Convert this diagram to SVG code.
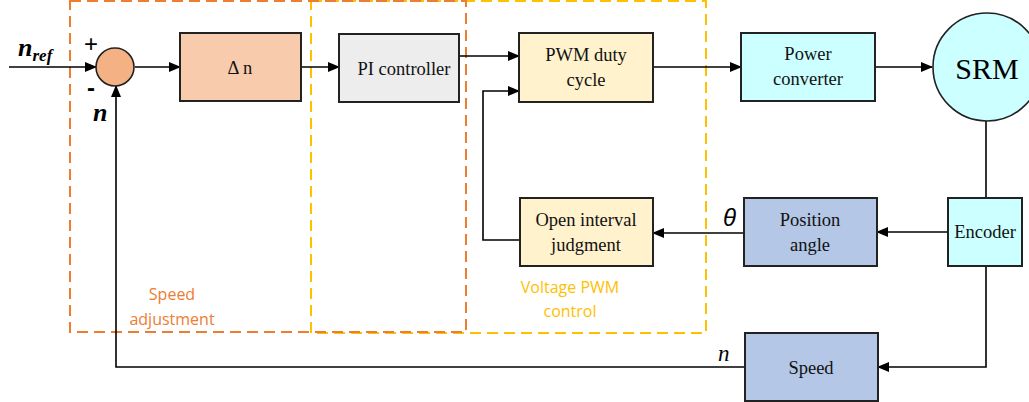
<svg xmlns="http://www.w3.org/2000/svg" width="1029" height="402" viewBox="0 0 1029 402">
<defs>
<marker id="ah" markerWidth="12" markerHeight="10" refX="11" refY="5" orient="auto" markerUnits="userSpaceOnUse">
<path d="M0,0 L12,5 L0,10 z" fill="#000"/>
</marker>
</defs>
<style>
.box{stroke:#222;stroke-width:2}
.lbl{font-family:"Liberation Serif","Times New Roman",serif;font-size:18.5px;fill:#111;text-anchor:middle}
.conn{fill:none;stroke:#000;stroke-width:1.6}
.dash-o{fill:none;stroke:#ED7D31;stroke-width:2;stroke-dasharray:11,6}
.dash-y{fill:none;stroke:#FFC000;stroke-width:2;stroke-dasharray:11,6}
.grp{font-family:"Open Sans","Liberation Sans",sans-serif;font-size:16px;text-anchor:middle}
.sym{font-family:"Liberation Serif","Times New Roman",serif;font-style:italic;fill:#000}
</style>
<rect width="1029" height="402" fill="#fff"/>

<g id="groups">
<rect class="dash-y" x="311" y="1" width="395" height="332"/>
<rect class="dash-o" x="70" y="1" width="396" height="331"/>
<text class="grp" fill="#ED7D31" x="172" y="300">Speed</text>
<text class="grp" fill="#ED7D31" x="172" y="325">adjustment</text>
<text class="grp" fill="#FFC000" x="570" y="293">Voltage PWM</text>
<text class="grp" fill="#FFC000" x="570" y="317">control</text>
</g>

<g id="connectors">
<line class="conn" x1="9" y1="67" x2="96" y2="67" marker-end="url(#ah)"/>
<line class="conn" x1="135" y1="67" x2="180" y2="67" marker-end="url(#ah)"/>
<line class="conn" x1="301" y1="67" x2="339" y2="67" marker-end="url(#ah)"/>
<line class="conn" x1="459" y1="56" x2="519" y2="56" marker-end="url(#ah)"/>
<line class="conn" x1="653" y1="67" x2="741" y2="67" marker-end="url(#ah)"/>
<line class="conn" x1="875" y1="67" x2="932" y2="67" marker-end="url(#ah)"/>
<line class="conn" x1="986" y1="121" x2="986" y2="198"/>
<line class="conn" x1="948" y1="232" x2="877" y2="232" marker-end="url(#ah)"/>
<line class="conn" x1="744" y1="233" x2="653" y2="233" marker-end="url(#ah)"/>
<polyline class="conn" points="520,240 483,240 483,91 519,91" marker-end="url(#ah)"/>
<polyline class="conn" points="986,266 986,367 878,367" marker-end="url(#ah)"/>
<polyline class="conn" points="745,367 116,367 116,86" marker-end="url(#ah)"/>
</g>

<g id="sum">
<circle cx="115" cy="67" r="19" fill="#F4B183" stroke="#222" stroke-width="1.6"/>
<text x="91" y="52" font-family="Liberation Sans,sans-serif" font-size="24" fill="#000" text-anchor="middle">+</text>
<text x="91" y="96" font-family="Liberation Sans,sans-serif" font-size="24" font-weight="bold" fill="#000" text-anchor="middle">-</text>
</g>

<g id="labels">
<text class="sym" x="18" y="56" font-size="26" font-weight="bold">n<tspan font-size="17" dy="5">ref</tspan></text>
<text class="sym" x="93" y="121" font-size="26" font-weight="bold">n</text>
<text x="723" y="226" font-family="Liberation Sans,sans-serif" font-style="italic" font-size="24">θ</text>
<text class="sym" x="718" y="361" font-size="23">n</text>
</g>

<g id="delta-n">
<rect class="box" x="180" y="33" width="121" height="68" fill="#F8CBAD"/>
<text class="lbl" x="240" y="74">Δ n</text>
</g>
<g id="pi-controller">
<rect class="box" x="339" y="34" width="120" height="68" fill="#EDEDED"/>
<text class="lbl" x="404" y="75">PI controller</text>
</g>
<g id="pwm-duty">
<rect class="box" x="519" y="33" width="134" height="69" fill="#FFF2CC"/>
<text class="lbl" x="586" y="61">PWM duty</text>
<text class="lbl" x="586" y="86">cycle</text>
</g>
<g id="power-converter">
<rect class="box" x="741" y="33" width="134" height="68" fill="#CCFFFF"/>
<text class="lbl" x="808" y="60">Power</text>
<text class="lbl" x="808" y="85">converter</text>
</g>
<g id="srm">
<circle cx="987" cy="67" r="54" fill="#CCFFFF" stroke="#222" stroke-width="1.6"/>
<text x="987" y="79" font-family="Liberation Serif,serif" font-size="30" text-anchor="middle">SRM</text>
</g>
<g id="encoder">
<rect class="box" x="948" y="198" width="74" height="68" fill="#CCFFFF"/>
<text class="lbl" x="985" y="238">Encoder</text>
</g>
<g id="position-angle">
<rect class="box" x="744" y="198" width="133" height="68" fill="#B4C7E7"/>
<text class="lbl" x="810" y="226">Position</text>
<text class="lbl" x="810" y="251">angle</text>
</g>
<g id="open-interval">
<rect class="box" x="520" y="198" width="133" height="68" fill="#FFF2CC"/>
<text class="lbl" x="586" y="226">Open interval</text>
<text class="lbl" x="586" y="251">judgment</text>
</g>
<g id="speed">
<rect class="box" x="745" y="333" width="133" height="68" fill="#B4C7E7"/>
<text class="lbl" x="811" y="374">Speed</text>
</g>
</svg>
